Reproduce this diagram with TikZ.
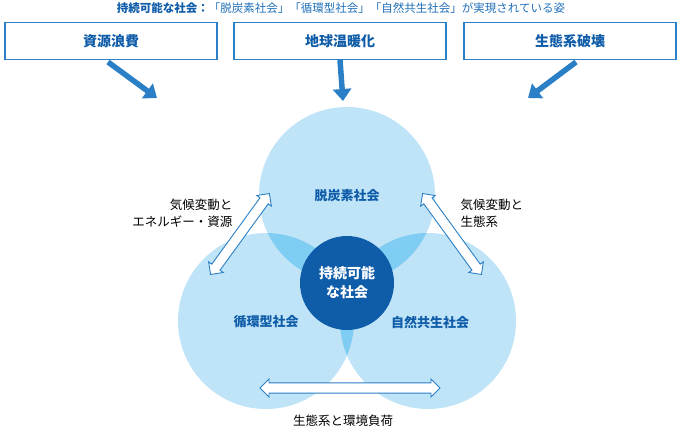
\documentclass[tikz,border=0pt]{standalone}
\usepackage{fontspec}
\setmainfont{Noto Sans CJK JP}
\usetikzlibrary{calc,positioning,shapes.arrows,arrows.meta}
\definecolor{deepblue}{HTML}{0F5CA8}
\definecolor{textblue}{HTML}{1F6FB8}
\definecolor{paleblue}{HTML}{BFE4F8}
\definecolor{midblue}{HTML}{7FCDF2}
\definecolor{boxblue}{HTML}{2A7FC6}

\begin{document}
\begin{tikzpicture}[x=1pt,y=-1pt,font=\fontsize{12.5}{17}\selectfont]
 \tikzstyle{issue}=[draw=boxblue, line width=1.2pt, minimum width=212pt, minimum height=37pt, text=deepblue, font=\fontsize{14}{17}\selectfont\bfseries]
 \tikzstyle{push}=[draw=boxblue, line width=5.5pt, -{Triangle[length=12pt,width=18pt]}]
 \tikzstyle{relation}=[double arrow, draw=boxblue, fill=white, line width=0.9pt, minimum width=18pt, double arrow head extend=3pt, inner sep=3.5pt, minimum height=100pt]
 \tikzstyle{society}=[text=deepblue, font=\fontsize{13}{16}\selectfont\bfseries]
 \useasboundingbox (0,0) rectangle (682,431);
 % title
 \node[font=\fontsize{11.5}{14}\selectfont] (T) at (341,8) {\textcolor{deepblue}{\bfseries 持続可能な社会：}\textcolor{textblue}{「脱炭素社会」「循環型社会」「自然共生社会」が実現されている姿}};
 % pressures
 \node[issue] (P1) at (111,41) {資源浪費};
 \node[issue] (P2) at (340,41) {地球温暖化};
 \node[issue] (P3) at (570,41) {生態系破壊};
 \coordinate (Q1) at (157,98);
 \coordinate (Q2) at (343,101);
 \coordinate (Q3) at (528,98);
 \draw[push] (108,62) -- (Q1);
 \draw[push] (P2.south) -- (Q2);
 \draw[push] (576,62) -- (Q3);
 % circles
 \coordinate (C1) at (347,195);
 \coordinate (C2) at (266,321);
 \coordinate (C3) at (428,321);
 \foreach \c in {C1,C2,C3} \fill[paleblue] (\c) circle (88);
 \begin{scope}\clip (C1) circle (88); \fill[midblue] (C2) circle (88); \fill[midblue] (C3) circle (88);\end{scope}
 \begin{scope}\clip (C2) circle (88); \fill[midblue] (C3) circle (88);\end{scope}
 \node[circle, fill=deepblue, minimum size=94pt, text=white, font=\fontsize{14}{19}\selectfont\bfseries, align=center] (S) at (347,283) {持続可能\\な社会};
 \node[society] (N1) at (347,196) {脱炭素社会};
 \node[society] (N2) at (266,322) {循環型社会};
 \node[society] (N3) at (430,322) {自然共生社会};
 % relations
 \node[relation, rotate=54] (L1) at (240,234) {};
 \node[relation, rotate=-54] (L2) at (452,234) {};
 \node[relation, minimum height=180pt] (L3) at (350,388) {};
 \node[align=right, anchor=east] (R1) at (236,213) {気候変動と\\エネルギー・資源};
 \node[align=left, anchor=west] (R2) at (457,213) {気候変動と\\生態系};
 \node (R3) at (343,421) {生態系と環境負荷};
\end{tikzpicture}
\end{document}
